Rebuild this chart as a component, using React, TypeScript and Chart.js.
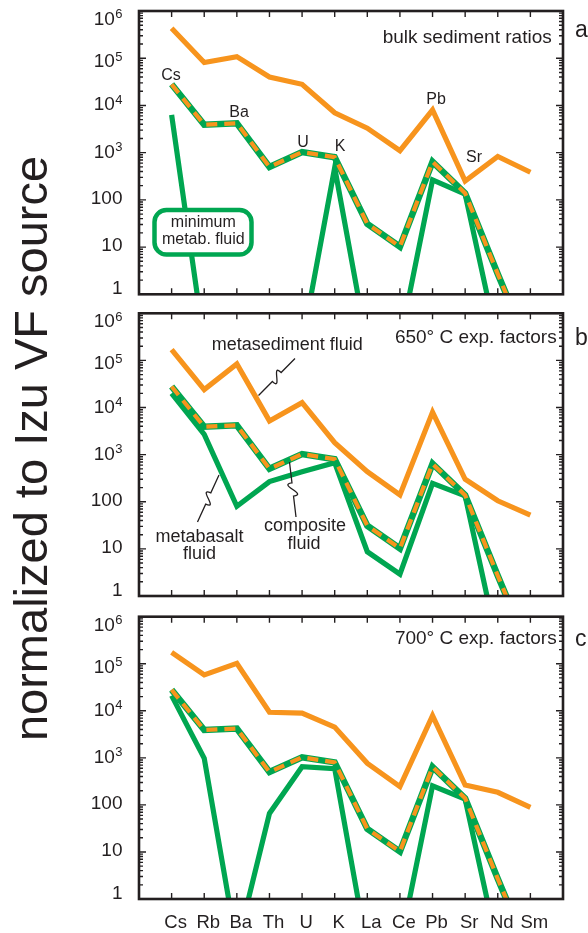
import React, { useEffect, useRef } from 'react';
import { Chart, registerables } from 'chart.js';

Chart.register(...registerables);

// Trace elements along the x axis
const ELEMENTS = ['Cs', 'Rb', 'Ba', 'Th', 'U', 'K', 'La', 'Ce', 'Pb', 'Sr', 'Nd', 'Sm'];

// Decade ticks of the log axis: [mantissa text, exponent text]
const DECADES = [1, 10, 100, 1e3, 1e4, 1e5, 1e6];
const DECADE_LABELS = [['1', ''], ['10', ''], ['100', ''], ['10', '3'], ['10', '4'], ['10', '5'], ['10', '6']];

// Composite fluid (identical in all three panels)
const COMPOSITE_FLUID = [28000, 3900, 4200, 500, 1030, 800, 31, 10.2, 640, 138, 2.7, 0.06];

// (a) bulk sediment ratios
const BULK_SEDIMENT = [430000, 81000, 108000, 40000, 28000, 7000, 3300, 1100, 8000, 250, 830, 385];
const MIN_METAB_FLUID = [6300, 0.09, null, null, 0.09, 480, 0.08, 0.1, 265, 132, 0.09, null];

// (b) 650 °C experimental factors
const METASEDIMENT_650 = [170000, 24000, 84000, 5200, 12700, 1800, 436, 140, 8000, 300, 105, 52];
const METABASALT_650 = [20000, 2700, 80, 268, 435, 675, 8.7, 2.9, 246, 133, 0.09, null];

// (c) 700 °C experimental factors
const METASEDIMENT_700 = [175000, 58000, 102000, 9300, 8900, 4500, 765, 245, 7900, 265, 185, 89];
const METABASALT_700 = [21000, 980, 0.1, 66, 650, 590, 0.08, 0.1, 255, 133, 0.09, null];

const ORANGE = '#F7941D';
const GREEN = '#00A651';
const INK = '#231F20';
const FONT = '"Liberation Sans", Arial, Helvetica, sans-serif';

const W = 588;
const H = 933;

type Ctx = CanvasRenderingContext2D;

function points(values: (number | null)[]) {
  return values.map((v, i) => ({ x: i, y: v }));
}

function text(ctx: Ctx, s: string, x: number, y: number, size: number, align: CanvasTextAlign = 'left') {
  ctx.font = `${size}px ${FONT}`;
  ctx.textAlign = align;
  ctx.textBaseline = 'alphabetic';
  ctx.fillStyle = INK;
  ctx.fillText(s, x, y);
}

// Thin leader line with an S-shaped kink half way along
function leader(ctx: Ctx, x0: number, y0: number, x1: number, y1: number) {
  const dx = x1 - x0;
  const dy = y1 - y0;
  const L = Math.hypot(dx, dy);
  const ux = dx / L;
  const uy = dy / L;
  const nx = -uy;
  const ny = ux;
  const ax = x0 + ux * L * 0.38;
  const ay = y0 + uy * L * 0.38;
  const bx = x0 + ux * L * 0.62;
  const by = y0 + uy * L * 0.62;
  const k = 15;
  ctx.save();
  ctx.strokeStyle = INK;
  ctx.lineWidth = 1.3;
  ctx.beginPath();
  ctx.moveTo(x0, y0);
  ctx.lineTo(ax, ay);
  ctx.bezierCurveTo(ax + nx * k, ay + ny * k, bx - nx * k, by - ny * k, bx, by);
  ctx.lineTo(x1, y1);
  ctx.stroke();
  ctx.restore();
}

type Panel = {
  top: number;
  bottom: number;
  sediment: (number | null)[];
  basalt: (number | null)[];
  annotate: (ctx: Ctx, chart: any) => void;
};

function decor(panel: Panel) {
  return {
    id: 'panelDecor',
    afterDraw(chart: any) {
      const { ctx, chartArea: a, scales } = chart;
      const xs = scales.x;
      const ys = scales.y;
      ctx.save();

      // inward ticks on all four sides
      ctx.strokeStyle = INK;
      ctx.lineWidth = 1.4;
      ctx.beginPath();
      for (let e = 0; e <= 6; e++) {
        for (let m = 1; m <= 9; m++) {
          const v = m * Math.pow(10, e);
          if (v > 1e6) break;
          const y = ys.getPixelForValue(v);
          const len = m === 1 ? 7 : 4;
          ctx.moveTo(a.left, y);
          ctx.lineTo(a.left + len, y);
          ctx.moveTo(a.right, y);
          ctx.lineTo(a.right - len, y);
        }
      }
      ELEMENTS.forEach((_, i) => {
        const x = xs.getPixelForValue(i);
        ctx.moveTo(x, a.top);
        ctx.lineTo(x, a.top + 6);
        ctx.moveTo(x, a.bottom);
        ctx.lineTo(x, a.bottom - 6);
      });
      ctx.stroke();

      // frame
      ctx.lineWidth = 2.6;
      ctx.strokeRect(a.left, a.top, a.right - a.left, a.bottom - a.top);

      // y tick labels with superscript exponents
      const right = a.left - 16.5;
      const shift = [0, 4, 4, 5, 5, 9, 14];
      DECADES.forEach((v, k) => {
        const y = ys.getPixelForValue(v) + shift[k];
        const [base, sup] = DECADE_LABELS[k];
        ctx.fillStyle = INK;
        ctx.textBaseline = 'alphabetic';
        ctx.textAlign = 'left';
        ctx.font = `13px ${FONT}`;
        const ws = sup ? ctx.measureText(sup).width + 0.5 : 0;
        ctx.font = `19px ${FONT}`;
        const wb = ctx.measureText(base).width;
        ctx.fillText(base, right - ws - wb, y);
        if (sup) {
          ctx.font = `13px ${FONT}`;
          ctx.fillText(sup, right - ws + 0.5, y - 6.7);
        }
      });

      panel.annotate(ctx, chart);
      ctx.restore();
    },
  };
}

function makeConfig(panel: Panel): any {
  const style = {
    pointRadius: 0,
    fill: false,
    tension: 0,
    clip: 0,
    spanGaps: false,
    borderJoinStyle: 'miter',
    borderCapStyle: 'butt',
  };
  return {
    type: 'line',
    data: {
      datasets: [
        { data: points(COMPOSITE_FLUID), borderColor: ORANGE, borderWidth: 4.2, borderDash: [11, 7], ...style },
        { data: points(COMPOSITE_FLUID), borderColor: GREEN, borderWidth: 6.5, ...style },
        { data: points(panel.basalt), borderColor: GREEN, borderWidth: 5.2, ...style },
        { data: points(panel.sediment), borderColor: ORANGE, borderWidth: 5.2, ...style },
      ],
    },
    options: {
      animation: false,
      responsive: false,
      devicePixelRatio: 1,
      events: [],
      layout: { padding: { left: 139, right: W - 563, top: panel.top, bottom: H - panel.bottom } },
      plugins: { legend: { display: false }, tooltip: { enabled: false } },
      scales: {
        x: { type: 'linear', min: -1, max: ELEMENTS.length, display: false },
        y: { type: 'logarithmic', min: 1, max: 1e6, display: false },
      },
    },
    plugins: [decor(panel)],
  };
}

const PANEL_A: Panel = {
  top: 11,
  bottom: 294.3,
  sediment: BULK_SEDIMENT,
  basalt: MIN_METAB_FLUID,
  annotate(ctx) {
    // shared y-axis title
    ctx.save();
    ctx.translate(46.7, 448.5);
    ctx.rotate(-Math.PI / 2);
    text(ctx, 'normalized to Izu VF source', 0, 0, 47, 'center');
    ctx.restore();

    text(ctx, 'bulk sediment ratios', 551.7, 43.3, 19, 'right');
    text(ctx, 'a', 575, 37.3, 23);

    text(ctx, 'Cs', 171, 80, 16, 'center');
    text(ctx, 'Ba', 239, 116.7, 16, 'center');
    text(ctx, 'U', 303, 146.7, 16, 'center');
    text(ctx, 'K', 340, 150.7, 16, 'center');
    text(ctx, 'Pb', 436, 104, 16, 'center');
    text(ctx, 'Sr', 474, 161.7, 16, 'center');

    ctx.beginPath();
    ctx.roundRect(154.5, 210, 97, 44.5, 12);
    ctx.fillStyle = '#ffffff';
    ctx.fill();
    ctx.lineWidth = 4.5;
    ctx.strokeStyle = GREEN;
    ctx.stroke();
    text(ctx, 'minimum', 203.3, 226.7, 16, 'center');
    text(ctx, 'metab. fluid', 203.3, 244.3, 16, 'center');
  },
};

const PANEL_B: Panel = {
  top: 313.3,
  bottom: 596,
  sediment: METASEDIMENT_650,
  basalt: METABASALT_650,
  annotate(ctx) {
    text(ctx, '650° C exp. factors', 556.7, 342.7, 19, 'right');
    text(ctx, 'b', 575, 345, 23);

    text(ctx, 'metasediment fluid', 211.7, 350, 18);
    text(ctx, 'metabasalt', 199.5, 541.7, 18, 'center');
    text(ctx, 'fluid', 199.5, 559.3, 18, 'center');
    text(ctx, 'composite', 305, 531, 18, 'center');
    text(ctx, 'fluid', 304, 549.3, 18, 'center');

    leader(ctx, 295, 358.5, 258.5, 395.5);
    leader(ctx, 219, 475, 197.5, 522);
    leader(ctx, 289.5, 462, 296, 517);
  },
};

const PANEL_C: Panel = {
  top: 616.7,
  bottom: 899,
  sediment: METASEDIMENT_700,
  basalt: METABASALT_700,
  annotate(ctx, chart) {
    text(ctx, '700° C exp. factors', 556.7, 644.3, 19, 'right');
    text(ctx, 'c', 575, 645.7, 23);

    const xs = chart.scales.x;
    ELEMENTS.forEach((el, i) => {
      text(ctx, el, xs.getPixelForValue(i) + 4, 928.3, 18.5, 'center');
    });
  },
};

const PANELS = [PANEL_A, PANEL_B, PANEL_C];

export default function App() {
  const refs = [useRef<HTMLCanvasElement>(null), useRef<HTMLCanvasElement>(null), useRef<HTMLCanvasElement>(null)];

  useEffect(() => {
    const charts = PANELS.map((p, i) => new Chart(refs[i].current as HTMLCanvasElement, makeConfig(p)));
    return () => charts.forEach((c) => c.destroy());
  }, []);

  return (
    <div style={{ position: 'absolute', left: 0, top: 0, width: W, height: H, background: '#ffffff', overflow: 'hidden' }}>
      {refs.map((r, i) => (
        <canvas
          key={i}
          ref={r}
          width={W}
          height={H}
          style={{ position: 'absolute', left: 0, top: 0, width: W, height: H }}
        />
      ))}
    </div>
  );
}
